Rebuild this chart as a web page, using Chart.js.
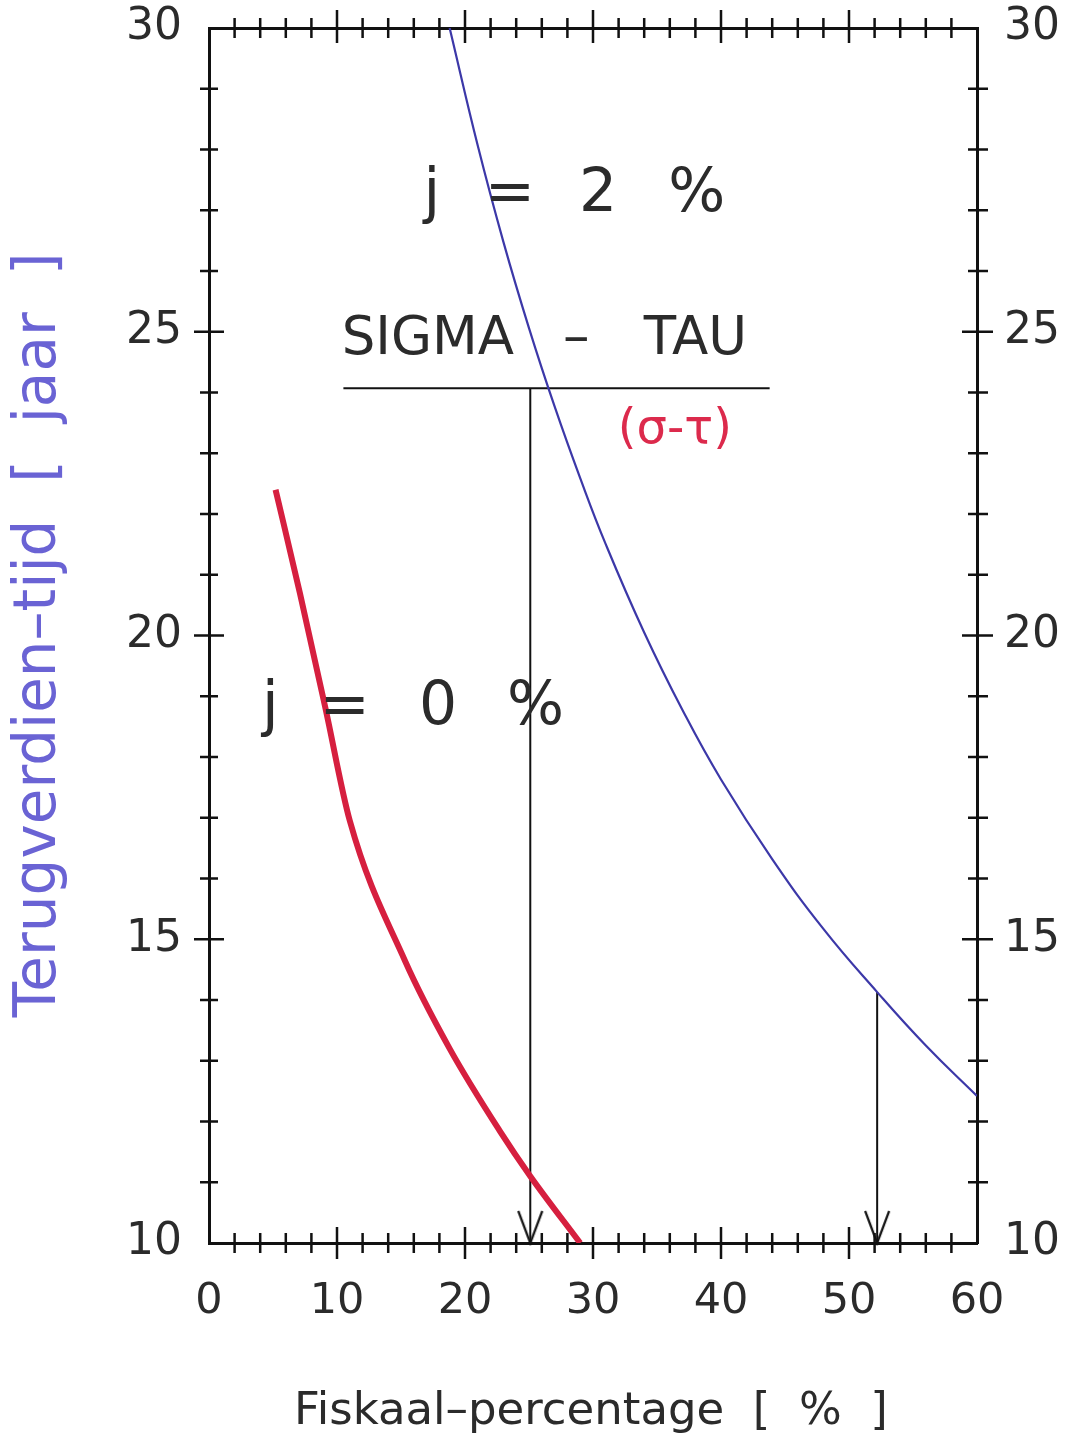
<!DOCTYPE html>
<html>
<head>
<meta charset="utf-8">
<script src="https://cdn.jsdelivr.net/npm/chart.js@4.4.1/dist/chart.umd.min.js"></script>
<style>
  html, body { margin: 0; padding: 0; background: #fff; }
  #wrap { width: 1067px; height: 1435px; position: relative; }
</style>
</head>
<body>
<div id="wrap"><canvas id="terug"></canvas></div>
<script>
// fiskaal-percentage vs terugverdien-tijd
const blueX = [18.8, 21, 23, 25, 27, 29, 31, 34, 37, 40, 44, 48, 52.2, 56, 60];
const blueY = [30, 28.06, 26.48, 25.06, 23.77, 22.59, 21.5, 20.05, 18.77, 17.63, 16.32, 15.17, 14.13, 13.25, 12.42];
const redX = [5.2, 7.1, 9.1, 11.0, 15.3, 18.8, 22.7, 25.1, 29.0];
const redY = [22.4, 20.7, 18.8, 16.95, 14.65, 13.2, 11.85, 11.1, 10.0];
// SIGMA - TAU rule and the two read-off arrows
const ruleX = [10.5, 43.8];
const ruleY = [24.07, 24.07];
const arrow1X = [25.1, 25.1];
const arrow1Y = [24.07, 10];
const arrow2X = [52.2, 52.2];
const arrow2Y = [14.13, 10];
const xTicks = [0, 10, 20, 30, 40, 50, 60];
const yTicks = [10, 15, 20, 25, 30];

const pts = (xs, ys) => xs.map((x, i) => ({ x: x, y: ys[i] }));

// open V arrowhead, tip in the middle of the canvas
const head = document.createElement('canvas');
head.width = 30; head.height = 72;
(function () {
  const c = head.getContext('2d');
  c.strokeStyle = '#111'; c.lineWidth = 2.2;
  c.beginPath(); c.moveTo(3, 4); c.lineTo(15, 36); c.lineTo(27, 4); c.stroke();
})();

const INK = '#2b2b2b';
const tickFont = { family: 'DejaVu Sans', size: 44 };

// straddling tick marks, like the plotter drew them
const tickMarks = {
  id: 'tickMarks',
  afterDraw(chart) {
    const ctx = chart.ctx, a = chart.chartArea;
    const sx = chart.scales.x, sy = chart.scales.y;
    ctx.save();
    ctx.strokeStyle = '#111';
    ctx.lineWidth = 2.5;
    ctx.beginPath();
    for (let v = 2; v < 60; v += 2) {
      const px = sx.getPixelForValue(v);
      const big = v % 10 === 0;
      ctx.moveTo(px, a.top - (big ? 18 : 10)); ctx.lineTo(px, a.top + (big ? 15 : 10));
      ctx.moveTo(px, a.bottom - (big ? 16 : 10)); ctx.lineTo(px, a.bottom + (big ? 16 : 10));
    }
    for (let v = 11; v < 30; v++) {
      const py = sy.getPixelForValue(v);
      const big = v % 5 === 0;
      ctx.moveTo(a.left - (big ? 15 : 9), py); ctx.lineTo(a.left + (big ? 15 : 9), py);
      ctx.moveTo(a.right - (big ? 15 : 9), py); ctx.lineTo(a.right + (big ? 16 : 11), py);
    }
    ctx.stroke();
    ctx.restore();
  }
};

// labels written in the plot + axis titles
const notes = {
  id: 'notes',
  afterDraw(chart) {
    const ctx = chart.ctx;
    const sx = chart.scales.x, sy = chart.scales.y;
    const put = (txt, x, y, font, color) => {
      ctx.font = font;
      ctx.fillStyle = color;
      ctx.textAlign = 'center';
      ctx.textBaseline = 'middle';
      ctx.fillText(txt, sx.getPixelForValue(x), sy.getPixelForValue(y));
    };
    ctx.save();
    const big = '60px "DejaVu Sans"';
    put('j', 17.4, 27.25, big, INK);
    put('=', 23.5, 27.25, big, INK);
    put('2', 30.4, 27.25, big, INK);
    put('%', 38.1, 27.25, big, INK);

    put('j', 4.8, 18.8, big, INK);
    put('=', 10.6, 18.8, big, INK);
    put('0', 17.9, 18.8, big, INK);
    put('%', 25.5, 18.8, big, INK);

    const mid = '53px "DejaVu Sans"';
    put('SIGMA', 17.1, 24.86, mid, INK);
    put('\u2013', 28.7, 24.86, mid, INK);
    put('TAU', 38.0, 24.86, mid, INK);

    put('(\u03C3-\u03C4)', 36.4, 23.38, '48px "DejaVu Sans"', '#dc2a4c');

    // axis titles
    ctx.font = '45px "DejaVu Sans"';
    ctx.fillStyle = INK;
    ctx.textAlign = 'center';
    ctx.textBaseline = 'middle';
    ctx.fillText('Fiskaal\u2013percentage  [  %  ]', 591, 1412);

    ctx.translate(40, 635);
    ctx.rotate(-Math.PI / 2);
    ctx.font = '58px "DejaVu Sans"';
    ctx.fillStyle = '#6a63d4';
    ctx.fillText('Terugverdien\u2013tijd  [  jaar  ]', 0, 0);
    ctx.restore();
  }
};

const border = { display: true, color: '#111', width: 3 };
const noPad = s => { s.paddingTop = 0; s.paddingBottom = 0; };

new Chart(document.getElementById('terug'), {
  type: 'scatter',
  data: {
    datasets: [
      {
        label: 'j = 2 %',
        data: pts(blueX, blueY),
        showLine: true,
        borderColor: '#3c38a8',
        borderWidth: 2.2,
        pointRadius: 0,
        tension: 0.45,
        fill: false,
      },
      {
        label: 'j = 0 %',
        data: pts(redX, redY),
        showLine: true,
        borderColor: '#d61f3f',
        borderWidth: 6,
        pointRadius: 0,
        cubicInterpolationMode: 'monotone',
        fill: false,
      },
      {
        label: 'sigma-tau',
        data: pts(ruleX, ruleY),
        showLine: true,
        borderColor: '#111',
        borderWidth: 2,
        pointRadius: 0,
      },
      {
        label: 'pijl 1',
        data: pts(arrow1X, arrow1Y),
        showLine: true,
        borderColor: '#111',
        borderWidth: 2,
        pointRadius: [0, 4],
        pointStyle: head,
        clip: false,
      },
      {
        label: 'pijl 2',
        data: pts(arrow2X, arrow2Y),
        showLine: true,
        borderColor: '#111',
        borderWidth: 2,
        pointRadius: [0, 4],
        pointStyle: head,
        clip: false,
      },
    ]
  },
  options: {
    responsive: true,
    maintainAspectRatio: false,
    animation: false,
    layout: { padding: 0 },
    plugins: {
      legend: { display: false },
      tooltip: { enabled: false },
    },
    scales: {
      x: {
        type: 'linear', position: 'bottom', min: 0, max: 60,
        afterFit: s => { s.height = 192; s.paddingLeft = 0; s.paddingRight = 0; },
        afterBuildTicks: s => { s.ticks = xTicks.map(v => ({ value: v })); },
        ticks: { font: { family: 'DejaVu Sans', size: 43 }, color: INK, padding: 33, maxRotation: 0, autoSkip: false },
        grid: { display: false, drawTicks: false },
        border: border,
      },
      x2: {
        type: 'linear', position: 'top', min: 0, max: 60,
        afterFit: s => { s.height = 28; s.paddingLeft = 0; s.paddingRight = 0; },
        ticks: { display: false },
        grid: { display: false, drawTicks: false },
        border: border,
      },
      y: {
        type: 'linear', position: 'left', min: 10, max: 30,
        afterFit: s => { s.width = 209; noPad(s); },
        afterBuildTicks: s => { s.ticks = yTicks.map(v => ({ value: v })); },
        ticks: { font: tickFont, color: INK, padding: 27, autoSkip: false },
        grid: { display: false, drawTicks: false },
        border: border,
      },
      y2: {
        type: 'linear', position: 'right', min: 10, max: 30,
        afterFit: s => { s.width = 90; noPad(s); },
        afterBuildTicks: s => { s.ticks = yTicks.map(v => ({ value: v })); },
        ticks: { font: tickFont, color: INK, padding: 27, autoSkip: false },
        grid: { display: false, drawTicks: false },
        border: border,
      },
    }
  },
  plugins: [tickMarks, notes]
});
</script>
</body>
</html>
